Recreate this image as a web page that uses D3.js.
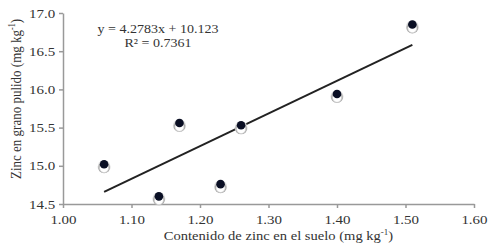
<!DOCTYPE html>
<html>
<head>
<meta charset="utf-8">
<script src="https://cdn.jsdelivr.net/npm/d3@7"></script>
<style>
  body { margin: 0; background: #fff; }
  text { font-family: "Liberation Serif", "Times New Roman", serif; fill: #333; }
</style>
</head>
<body>
<div class="graph"></div>
<script>
// soil zinc vs polished grain zinc
let xs = [1.06, 1.14, 1.17, 1.23, 1.26, 1.40, 1.51];
let ys = [15.02, 14.60, 15.56, 14.76, 15.53, 15.94, 16.85];
let xTicks = [1.00, 1.10, 1.20, 1.30, 1.40, 1.50, 1.60];
let yTicks = [14.5, 15.0, 15.5, 16.0, 16.5, 17.0];
let slope = 4.2783, intercept = 10.123;

let margin = {top: 13, right: 28, bottom: 39, left: 63},
    width = 502 - margin.left - margin.right,
    height = 243 - margin.top - margin.bottom;

let svg = d3.select(".graph").append("svg")
    .attr("width", 502)
    .attr("height", 243);

let g = svg.append("g")
    .attr("transform", "translate(" + margin.left + "," + margin.top + ")");

let x = d3.scaleLinear().domain([1.0, 1.6]).range([0, width]);
let y = d3.scaleLinear().domain([14.5, 17.0]).range([height, 0]);

let xAxis = g.append("g")
    .attr("transform", "translate(0," + height + ")")
    .call(d3.axisBottom(x).tickValues(xTicks).tickFormat(d3.format(".2f")).tickSize(4).tickSizeOuter(0));
let yAxis = g.append("g")
    .call(d3.axisLeft(y).tickValues(yTicks).tickFormat(d3.format(".1f")).tickSize(4).tickSizeOuter(0));

[xAxis, yAxis].forEach(a => {
    a.select(".domain").attr("stroke", "#999").attr("stroke-width", 1.5);
    a.selectAll(".tick line").attr("stroke", "#999").attr("stroke-width", 1.5);
    a.selectAll(".tick text")
        .style("font-size", "12.5px")
        .attr("fill", "#333")
        .attr("transform", "scale(1.2,1)");
});
xAxis.selectAll(".tick text").attr("y", 11);
yAxis.selectAll(".tick text").attr("x", -6.5);

// trend line
let x0 = d3.min(xs), x1 = d3.max(xs);
g.append("line")
    .attr("x1", x(x0)).attr("y1", y(slope * x0 + intercept))
    .attr("x2", x(x1)).attr("y2", y(slope * x1 + intercept))
    .attr("stroke", "#222")
    .attr("stroke-width", 2);

// markers: shadow ring + dark dot
let pts = xs.map((d, i) => [d, ys[i]]);
let defs = svg.append("defs");
let grad = defs.append("radialGradient").attr("id", "ring")
    .attr("cx", "50%").attr("cy", "60%").attr("r", "50%");
grad.append("stop").attr("offset", "0%").attr("stop-color", "#fff");
grad.append("stop").attr("offset", "55%").attr("stop-color", "#fff");
grad.append("stop").attr("offset", "80%").attr("stop-color", "#aaa");
grad.append("stop").attr("offset", "100%").attr("stop-color", "#ddd");

g.selectAll(".shadow")
    .data(pts)
    .enter().append("circle")
    .attr("class", "shadow")
    .attr("cx", d => x(d[0]))
    .attr("cy", d => y(d[1]) + 2.5)
    .attr("r", 6.5)
    .attr("fill", "url(#ring)");

g.selectAll(".dot")
    .data(pts)
    .enter().append("circle")
    .attr("class", "dot")
    .attr("cx", d => x(d[0]))
    .attr("cy", d => y(d[1]))
    .attr("r", 4.3)
    .attr("fill", "#0a0f24");

// equation
let eq = g.append("g").attr("transform", "translate(95,0) scale(1.08,1)");
eq.append("text")
    .attr("x", 0).attr("y", 20)
    .attr("text-anchor", "middle")
    .style("font-size", "13px")
    .text("y = 4.2783x + 10.123");
eq.append("text")
    .attr("x", 0).attr("y", 34)
    .attr("text-anchor", "middle")
    .style("font-size", "13px")
    .text("R\u00b2 = 0.7361");

// axis titles
svg.append("text")
    .attr("transform", "translate(" + (margin.left + width / 2 + 10) + ",240) scale(1.12,1)")
    .attr("text-anchor", "middle")
    .style("font-size", "13px")
    .html("Contenido de zinc en el suelo (mg kg<tspan dy='-5' style='font-size:8px'>-1</tspan><tspan dy='5'>)</tspan>");

svg.append("text")
    .attr("transform", "translate(21,99) rotate(-90) scale(1,1.2)")
    .attr("text-anchor", "middle")
    .style("font-size", "13px")
    .html("Zinc en grano pulido (mg kg<tspan dy='-5' style='font-size:8px'>-1</tspan><tspan dy='5'>)</tspan>");
</script>
</body>
</html>
